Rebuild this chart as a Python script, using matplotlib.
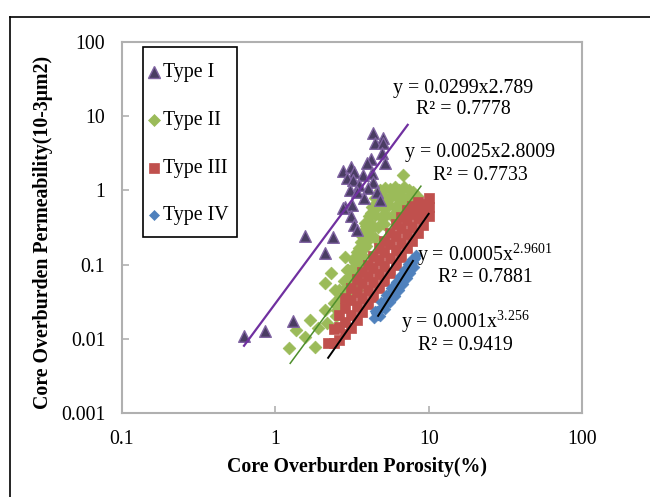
import matplotlib
matplotlib.use("Agg")
import matplotlib.pyplot as plt
from matplotlib.lines import Line2D
from matplotlib.patches import Rectangle
import numpy as np

plt.rcParams['font.family'] = ['Liberation Serif', 'DejaVu Serif']
plt.rcParams['mathtext.fontset'] = 'custom'
plt.rcParams['mathtext.rm'] = 'Liberation Serif'
plt.rcParams['mathtext.it'] = 'Liberation Serif:italic'

# ---------------- data ----------------
type1_x = [4.34, 5.05, 4.47, 5.05, 4.97, 4.21, 5.20, 3.96, 2.77, 3.12, 3.26, 2.94, 3.21, 3.73,
           4.27, 4.34, 3.52, 4.03, 3.07, 3.41, 3.79, 4.60, 4.82, 2.85, 3.16, 2.77, 3.12, 3.26,
           3.41, 1.56, 2.38, 2.11, 1.30, 0.625, 0.857]
type1_y = [5.94, 5.08, 4.35, 4.35, 3.19, 2.65, 2.34, 2.34, 1.82, 2.07, 1.77, 1.47, 1.38, 1.61,
           1.72, 1.30, 1.18, 1.08, 1.01, 0.95, 0.79, 0.95, 0.74, 0.60, 0.64, 0.58, 0.45, 0.34,
           0.29, 0.24, 0.235, 0.143, 0.0174, 0.0109, 0.0127]

type2_x = [1.23, 1.36, 1.56, 1.68, 1.82, 1.90, 2.17, 2.11, 2.53, 2.11, 2.31, 2.45, 2.64, 2.85,
           2.94, 3.31, 3.41, 3.68, 3.85, 6.81,
           4.8, 5.2, 5.6, 6.0, 6.4, 6.9, 7.4, 7.9,
           4.5, 4.9, 5.3, 5.8, 6.3, 6.8, 7.3, 7.8, 8.4,
           4.3, 4.7, 5.1, 5.5, 6.0, 6.5, 7.0, 7.6,
           4.1, 4.5, 4.9, 5.3, 5.8, 6.3,
           3.9, 4.3, 4.7, 5.1,
           3.7, 4.1, 4.5, 3.5, 3.9,
           3.2, 3.4, 3.0, 3.2, 2.8, 3.0, 2.6, 2.9, 2.4, 2.7,
           2.5, 2.7, 2.9, 3.1, 3.3, 3.5, 3.7, 3.3, 3.6, 2.6, 3.0, 3.8, 4.0, 4.2, 3.9, 4.2,
           3.4, 3.6, 3.8, 4.0, 2.8, 3.2]
type2_y = [0.0075, 0.0131, 0.0106, 0.0179, 0.0077, 0.014, 0.0163, 0.0244, 0.0244, 0.0565, 0.077,
           0.0455, 0.0366, 0.126, 0.0846, 0.068, 0.0455, 0.135, 0.364, 1.61,
           1.0, 1.08, 1.05, 1.1, 1.02, 1.12, 1.0, 0.95,
           0.80, 0.82, 0.78, 0.84, 0.80, 0.82, 0.78, 0.80, 0.85,
           0.60, 0.62, 0.58, 0.63, 0.60, 0.62, 0.60, 0.65,
           0.45, 0.46, 0.44, 0.47, 0.45, 0.48,
           0.33, 0.34, 0.32, 0.35,
           0.24, 0.25, 0.23, 0.17, 0.18,
           0.12, 0.10, 0.085, 0.07, 0.06, 0.05, 0.045, 0.038, 0.03, 0.028,
           0.02, 0.03, 0.04, 0.055, 0.075, 0.10, 0.13, 0.11, 0.20, 0.025, 0.065, 0.28, 0.38,
           0.50, 0.20, 0.30, 0.15, 0.26, 0.17, 0.24, 0.045, 0.09]

type3_x = [2.2,
           2.4, 2.4,
           2.6, 2.6, 2.6,
           2.85, 2.85, 2.85, 2.85,
           3.1, 3.1, 3.1, 3.1,
           3.4, 3.4, 3.4, 3.4,
           3.7, 3.7, 3.7, 3.7,
           4.0, 4.0, 4.0, 4.0,
           4.35, 4.35, 4.35, 4.35,
           4.75, 4.75, 4.75, 4.75,
           5.15, 5.15, 5.15, 5.15,
           5.6, 5.6, 5.6, 5.6,
           6.1, 6.1, 6.1, 6.1,
           6.6, 6.6, 6.6, 6.6,
           7.2, 7.2, 7.2, 7.2,
           7.8, 7.8, 7.8, 7.8,
           8.5, 8.5, 8.5, 8.5,
           9.2, 9.2, 9.2,
           10.0, 10.0, 10.0]
type3_y = [0.0088,
           0.0088, 0.0135,
           0.0096, 0.0145, 0.021,
           0.0115, 0.017, 0.026, 0.036,
           0.0138, 0.021, 0.033, 0.048,
           0.018, 0.028, 0.043, 0.063,
           0.023, 0.036, 0.056, 0.08,
           0.029, 0.045, 0.07, 0.10,
           0.037, 0.058, 0.09, 0.13,
           0.048, 0.075, 0.117, 0.17,
           0.061, 0.095, 0.149, 0.21,
           0.078, 0.122, 0.19, 0.27,
           0.10, 0.157, 0.245, 0.35,
           0.127, 0.197, 0.31, 0.44,
           0.165, 0.256, 0.40, 0.55,
           0.209, 0.325, 0.48, 0.62,
           0.27, 0.42, 0.58, 0.70,
           0.34, 0.50, 0.65,
           0.45, 0.60, 0.79]

type4_x = [4.4, 4.55, 4.7, 4.85, 5.0, 5.15, 5.3, 5.45, 5.6, 5.75, 5.9, 6.05, 6.2, 6.35, 6.5,
           6.65, 6.8, 6.95, 7.1, 7.25, 7.4, 7.55, 7.7, 7.85, 8.0, 8.15, 8.3,
           4.6, 5.0, 5.4, 5.8, 6.2, 6.6, 7.0, 7.4, 7.8,
           4.8, 5.2, 5.6, 6.0, 6.4, 6.8, 7.2, 7.6, 8.0,
           4.5, 4.9, 5.3, 5.7, 6.1, 6.5, 6.9, 7.3]
type4_y = [0.019, 0.022, 0.021, 0.025, 0.027, 0.028, 0.032, 0.033, 0.038, 0.040, 0.046, 0.047,
           0.053, 0.056, 0.062, 0.064, 0.071, 0.074, 0.082, 0.085, 0.094, 0.097, 0.106, 0.110,
           0.120, 0.124, 0.135,
           0.024, 0.030, 0.036, 0.044, 0.058, 0.070, 0.085, 0.100, 0.120,
           0.020, 0.025, 0.031, 0.038, 0.046, 0.055, 0.066, 0.078, 0.092,
           0.024, 0.031, 0.039, 0.048, 0.058, 0.071, 0.085, 0.102]

# fitted power laws y = a * x^b, drawn over [xmin, xmax]
fit_a = [0.0299, 0.0025, 0.00053, 0.000134]
fit_b = [2.789, 2.8009, 2.9601, 3.256]
fit_range = [(0.625, 7.3), (1.25, 8.9), (2.21, 10.0), (4.68, 7.9)]
fit_labels = [("y = 0.0299x2.789", "R² = 0.7778"),
              ("y = 0.0025x2.8009", "R² = 0.7733"),
              ("y = 0.0005x$^{\\mathrm{2.9601}}$", "R² = 0.7881"),
              ("y = 0.0001x$^{\\mathrm{3.256}}$", "R² = 0.9419")]
fit_colors = ['#7030a0', '#4e8f2c', 'black', 'black']
fit_widths = [1.6, 1.1, 1.4, 1.4]

labels = ["Type I", "Type II", "Type III", "Type IV"]
x_ticks = [0.1, 1, 10, 100]
x_ticklabels = ["0.1", "1", "10", "100"]
y_ticks = [0.001, 0.01, 0.1, 1, 10, 100]
y_ticklabels = ["0.001", "0.01", "0.1", "1", "10", "100"]

# ---------------- figure ----------------
W, H = 650, 497
fig = plt.figure(figsize=(6.5, 4.97), dpi=100)
ax = fig.add_axes([122 / W, 1 - 413 / H, 460 / W, 371 / H])
ax.set_xscale('log')
ax.set_yscale('log')
ax.set_xlim(0.1, 100)
ax.set_ylim(0.001, 100)

fs = 14.3
styles = [dict(marker='^', s=70, c='#4a3d63', edgecolors='#8064a2', linewidths=1.0, zorder=5),
          dict(marker='D', s=42, c='#9bbb59', edgecolors='#9bbb59', linewidths=0.5, zorder=2),
          dict(marker='s', s=58, c='#c0504d', edgecolors='#c0504d', linewidths=0.5, zorder=3),
          dict(marker='D', s=30, c='#4f81bd', edgecolors='#4f81bd', linewidths=0.5, zorder=4)]
series = [(type1_x, type1_y), (type2_x, type2_y), (type3_x, type3_y), (type4_x, type4_y)]
for (xs, ys), st in zip(series, styles):
    ax.scatter(xs, ys, **st)

for a, b, (x0, x1), col, lw in zip(fit_a, fit_b, fit_range, fit_colors, fit_widths):
    xs = np.array([x0, x1])
    ax.plot(xs, a * xs ** b, color=col, lw=lw, zorder=6)

ax.set_xticks(x_ticks)
ax.set_xticklabels(x_ticklabels)
ax.set_yticks(y_ticks)
ax.set_yticklabels(y_ticklabels)
ax.minorticks_off()
ax.tick_params(which='both', direction='in', length=5, width=1.2, color='#b0b0b0',
               labelsize=fs, pad=12)
for sp in ax.spines.values():
    sp.set_color('#b0b0b0')
    sp.set_linewidth(1.5)

# legend drawn by hand to match the reference box geometry
fig.add_artist(Rectangle((143 / W, 1 - 237 / H), 94 / W, 190 / H, transform=fig.transFigure,
                         facecolor='white', edgecolor='black', lw=1.2, zorder=10))
leg_ys = [72, 120, 168, 215]
for lab, st, ly in zip(labels, styles, leg_ys):
    ms = np.sqrt(st['s'])
    fig.add_artist(Line2D([154 / W], [1 - ly / H], marker=st['marker'], markersize=ms * 0.95,
                          markerfacecolor=st['c'], markeredgecolor=st['edgecolors'],
                          markeredgewidth=st['linewidths'], linestyle='none',
                          transform=fig.transFigure, zorder=11))
    fig.text(163 / W, 1 - ly / H, lab, ha='left', va='center', fontsize=fs, zorder=11)

# equation annotations (pixel centres)
ann_pos = [((463, 88), (463, 110)), ((480, 153), (480, 176)),
           ((485, 255), (485, 278)), ((465, 322), (465, 345))]
for (l1, l2), ((x1, y1), (x2, y2)) in zip(fit_labels, ann_pos):
    fig.text(x1 / W, 1 - y1 / H, l1, ha='center', va='center', fontsize=fs)
    fig.text(x2 / W, 1 - y2 / H, l2, ha='center', va='center', fontsize=fs)

fig.text(357 / W, 1 - 467 / H, "Core Overburden Porosity(%)", ha='center', va='center',
         fontsize=fs, fontweight='bold')
fig.text(43 / W, 1 - 232 / H, "Core Overburden Permeability(10-3μm2)", ha='center',
         va='center', rotation=90, fontsize=fs, fontweight='bold')

# outer frame
fig.add_artist(Line2D([10 / W, 10 / W], [0, 1 - 17 / H], color='black', lw=1.2))
fig.add_artist(Line2D([10 / W, 1], [1 - 17 / H, 1 - 17 / H], color='black', lw=1.2))

fig.savefig("out.png", dpi=100)
